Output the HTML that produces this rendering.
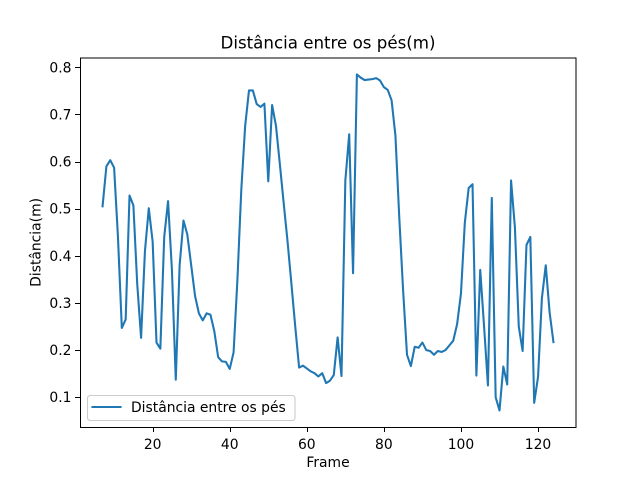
<!DOCTYPE html>
<html lang="pt">
<head>
<meta charset="utf-8">
<title>Distância entre os pés(m)</title>
<style>
html,body{margin:0;padding:0;background:#fff;}
svg{display:block;font-family:"DejaVu Sans","Liberation Sans",sans-serif;fill:#000;}
</style>
</head>
<body>
<svg id="chart" width="640" height="480" viewBox="0 0 640 480" xmlns="http://www.w3.org/2000/svg">
  <rect x="0" y="0" width="640" height="480" fill="#ffffff"/>
  <text x="328" y="48.5" font-size="16.67" text-anchor="middle">Distância entre os pés(m)</text>
  <text x="328" y="467" font-size="13.89" text-anchor="middle">Frame</text>
  <text x="0" y="0" font-size="13.89" text-anchor="middle" transform="translate(40.5 242.4) rotate(-90)">Distância(m)</text>
  <g id="x-ticks"></g>
  <g id="y-ticks"></g>
  <polyline id="series-line" fill="none" stroke="#1f77b4" stroke-width="2.08" stroke-linejoin="round" stroke-linecap="square"/>
  <rect x="80.5" y="58" width="495.5" height="369.5" fill="none" stroke="#000" stroke-width="1.11" shape-rendering="crispEdges"/>
  <g>
    <rect x="87.5" y="395.5" width="207.5" height="25" rx="2.8" fill="#fff" fill-opacity="0.8" stroke="#cccccc" stroke-width="1.11"/>
    <line x1="92.5" y1="407" x2="120.5" y2="407" stroke="#1f77b4" stroke-width="2.08" stroke-linecap="square"/>
    <text x="131" y="412" font-size="13.89">Distância entre os pés</text>
  </g>
</svg>
<script>
const frames = [7,8,9,10,11,12,13,14,15,16,17,18,19,20,21,22,23,24,25,26,27,28,29,30,31,32,33,34,35,36,37,38,39,40,41,42,43,44,45,46,47,48,49,50,51,52,53,54,55,56,57,58,59,60,61,62,63,64,65,66,67,68,69,70,71,72,73,74,75,76,77,78,79,80,81,82,83,84,85,86,87,88,89,90,91,92,93,94,95,96,97,98,99,100,101,102,103,104,105,106,107,108,109,110,111,112,113,114,115,116,117,118,119,120,121,122,123,124];
const distances = [0.505,0.59,0.603,0.587,0.44,0.247,0.265,0.528,0.507,0.34,0.226,0.41,0.501,0.43,0.216,0.203,0.44,0.516,0.37,0.137,0.38,0.475,0.445,0.38,0.315,0.278,0.263,0.278,0.275,0.24,0.185,0.176,0.175,0.16,0.195,0.35,0.54,0.675,0.751,0.751,0.722,0.716,0.723,0.558,0.72,0.676,0.595,0.512,0.431,0.341,0.25,0.163,0.167,0.161,0.155,0.151,0.144,0.151,0.13,0.135,0.147,0.227,0.145,0.56,0.658,0.363,0.785,0.778,0.773,0.774,0.775,0.777,0.772,0.758,0.752,0.73,0.655,0.48,0.325,0.19,0.166,0.207,0.205,0.216,0.2,0.198,0.19,0.198,0.196,0.2,0.21,0.22,0.255,0.32,0.47,0.544,0.552,0.146,0.37,0.25,0.125,0.523,0.1,0.072,0.165,0.127,0.56,0.46,0.25,0.198,0.423,0.44,0.088,0.143,0.31,0.38,0.28,0.217];
const xTickValues = [20,40,60,80,100,120];
const yTickValues = [0.1,0.2,0.3,0.4,0.5,0.6,0.7,0.8];

const SVG_NS = 'http://www.w3.org/2000/svg';
const plot = {left: 80, right: 576, top: 57.6, bottom: 427.2};

function paddedDomain(values) {
  const lo = Math.min.apply(null, values);
  const hi = Math.max.apply(null, values);
  const pad = (hi - lo) * 0.05;
  return [lo - pad, hi + pad];
}
const xDomain = paddedDomain(frames);
const yDomain = paddedDomain(distances);

function xScale(v) {
  return plot.left + (v - xDomain[0]) / (xDomain[1] - xDomain[0]) * (plot.right - plot.left);
}
function yScale(v) {
  return plot.bottom - (v - yDomain[0]) / (yDomain[1] - yDomain[0]) * (plot.bottom - plot.top);
}
function svgEl(tag) {
  return document.createElementNS(SVG_NS, tag);
}

const linePoints = frames.map(function (f, i) {
  return xScale(f).toFixed(2) + ',' + yScale(distances[i]).toFixed(2);
});
document.getElementById('series-line').setAttribute('points', linePoints.join(' '));

const xGroup = document.getElementById('x-ticks');
xTickValues.forEach(function (v) {
  const px = Math.round(xScale(v)) + 0.5;
  const tick = svgEl('line');
  
  
  tick.setAttribute('x1', px);
  tick.setAttribute('x2', px);
  tick.setAttribute('y1', plot.bottom);
  tick.setAttribute('y2', plot.bottom + 4.86);
  tick.setAttribute('stroke', '#000');
  tick.setAttribute('stroke-width', '1.11');
  tick.setAttribute('shape-rendering', 'crispEdges');
  xGroup.appendChild(tick);
  const label = svgEl('text');
  
  
  label.setAttribute('x', xScale(v));
  label.setAttribute('y', 449);
  label.setAttribute('font-size', '13.89');
  label.setAttribute('text-anchor', 'middle');
  label.textContent = String(v);
  xGroup.appendChild(label);
});

const yGroup = document.getElementById('y-ticks');
yTickValues.forEach(function (v) {
  const py = Math.round(yScale(v)) + 0.5;
  const tick = svgEl('line');
  
  
  tick.setAttribute('x1', plot.left - 4.86);
  tick.setAttribute('x2', plot.left);
  tick.setAttribute('y1', py);
  tick.setAttribute('y2', py);
  tick.setAttribute('stroke', '#000');
  tick.setAttribute('stroke-width', '1.11');
  tick.setAttribute('shape-rendering', 'crispEdges');
  yGroup.appendChild(tick);
  const label = svgEl('text');
  
  
  label.setAttribute('x', 71.5);
  label.setAttribute('y', yScale(v) + 5);
  label.setAttribute('font-size', '13.89');
  label.setAttribute('text-anchor', 'end');
  label.textContent = v.toFixed(1);
  yGroup.appendChild(label);
});
</script>
</body>
</html>
